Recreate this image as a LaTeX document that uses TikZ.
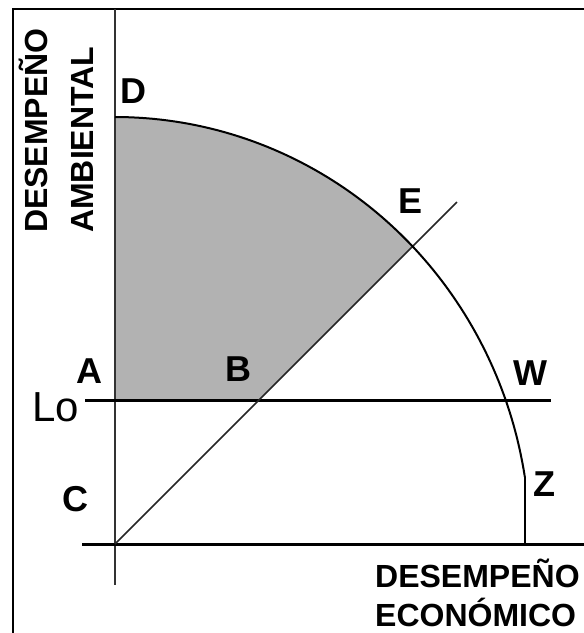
\documentclass[tikz,border=0pt]{standalone}
\usepackage{fontspec}
\setmainfont{Liberation Sans}
\begin{document}
\begin{tikzpicture}[x=1pt,y=-1pt,
  lbl/.style={font=\fontsize{36}{36}\selectfont\bfseries, inner sep=0pt},
  axlbl/.style={font=\fontsize{32}{32}\selectfont\bfseries, inner sep=0pt},
  thickline/.style={line width=3pt, black},
  axisline/.style={line width=2.5pt, black!80},
  curveline/.style={line width=2pt, black},
  diagline/.style={line width=1.6pt, black!85},
  shadefill/.style={fill=black!30}]
\fill[white] (0,0) rectangle (584,633);
\useasboundingbox (0,0) rectangle (584,633);
% named points
\coordinate (O) at (115,544);
\coordinate (Dp) at (115,117);
\coordinate (Ap) at (115,400);
\coordinate (Bp) at (259,400);
\coordinate (Ep) at (412.6,246.4);
\coordinate (Zp) at (524.9,477);
\coordinate (Zb) at (524.9,544);
\coordinate (Tip) at (457,202);
\coordinate (VTop) at (115,9);
\coordinate (VBot) at (115,585);
\coordinate (HL) at (82,544);
\coordinate (HR) at (584,544);
\coordinate (LoL) at (85,400);
\coordinate (LoR) at (551,400);
\coordinate (FBL) at (13,633);
\coordinate (FTL) at (13,9);
\coordinate (FTR) at (584,9);
% shaded region
\fill[shadefill] (Ap) -- (Bp) -- (Ep) -- plot[domain=44.19:90,samples=50] ({115+415*cos(\x)},{544-427*sin(\x)}) -- (Dp) -- cycle;
% frame
\draw[line width=2.5pt] (FBL) -- (FTL) -- (FTR);
% axes and lines
\draw[axisline] (VTop) -- (VBot);
\draw[thickline] (HL) -- (HR);
\draw[thickline] (LoL) -- (LoR);
\draw[diagline] (O) -- (Tip);
\draw[curveline] plot[domain=9.03:90,samples=80] ({115+415*cos(\x)},{544-427*sin(\x)});
\draw[line width=2.5pt] (Zp) -- (Zb);
% labels
\node[lbl] (lD) at (133,91) {D};
\node[lbl] (lE) at (411,201) {E};
\node[lbl] (lA) at (89,371) {A};
\node[lbl] (lB) at (238,369) {B};
\node[lbl] (lW) at (530,373) {W};
\node[lbl] (lZ) at (544,484) {Z};
\node[lbl] (lC) at (75,499) {C};
\node[inner sep=0pt, font=\fontsize{42}{42}\selectfont] (lLo) at (56,407) {Lo};
\node[axlbl, rotate=90, anchor=base west] (lDes1) at (47,233) {DESEMPEÑO};
\node[axlbl, rotate=90, anchor=base west] (lAmb) at (93,233) {AMBIENTAL};
\node[axlbl, anchor=base west] (lDes2) at (375,587) {DESEMPEÑO};
\node[axlbl, anchor=base west] (lEco) at (375,626) {ECONÓMICO};
\end{tikzpicture}
\end{document}
